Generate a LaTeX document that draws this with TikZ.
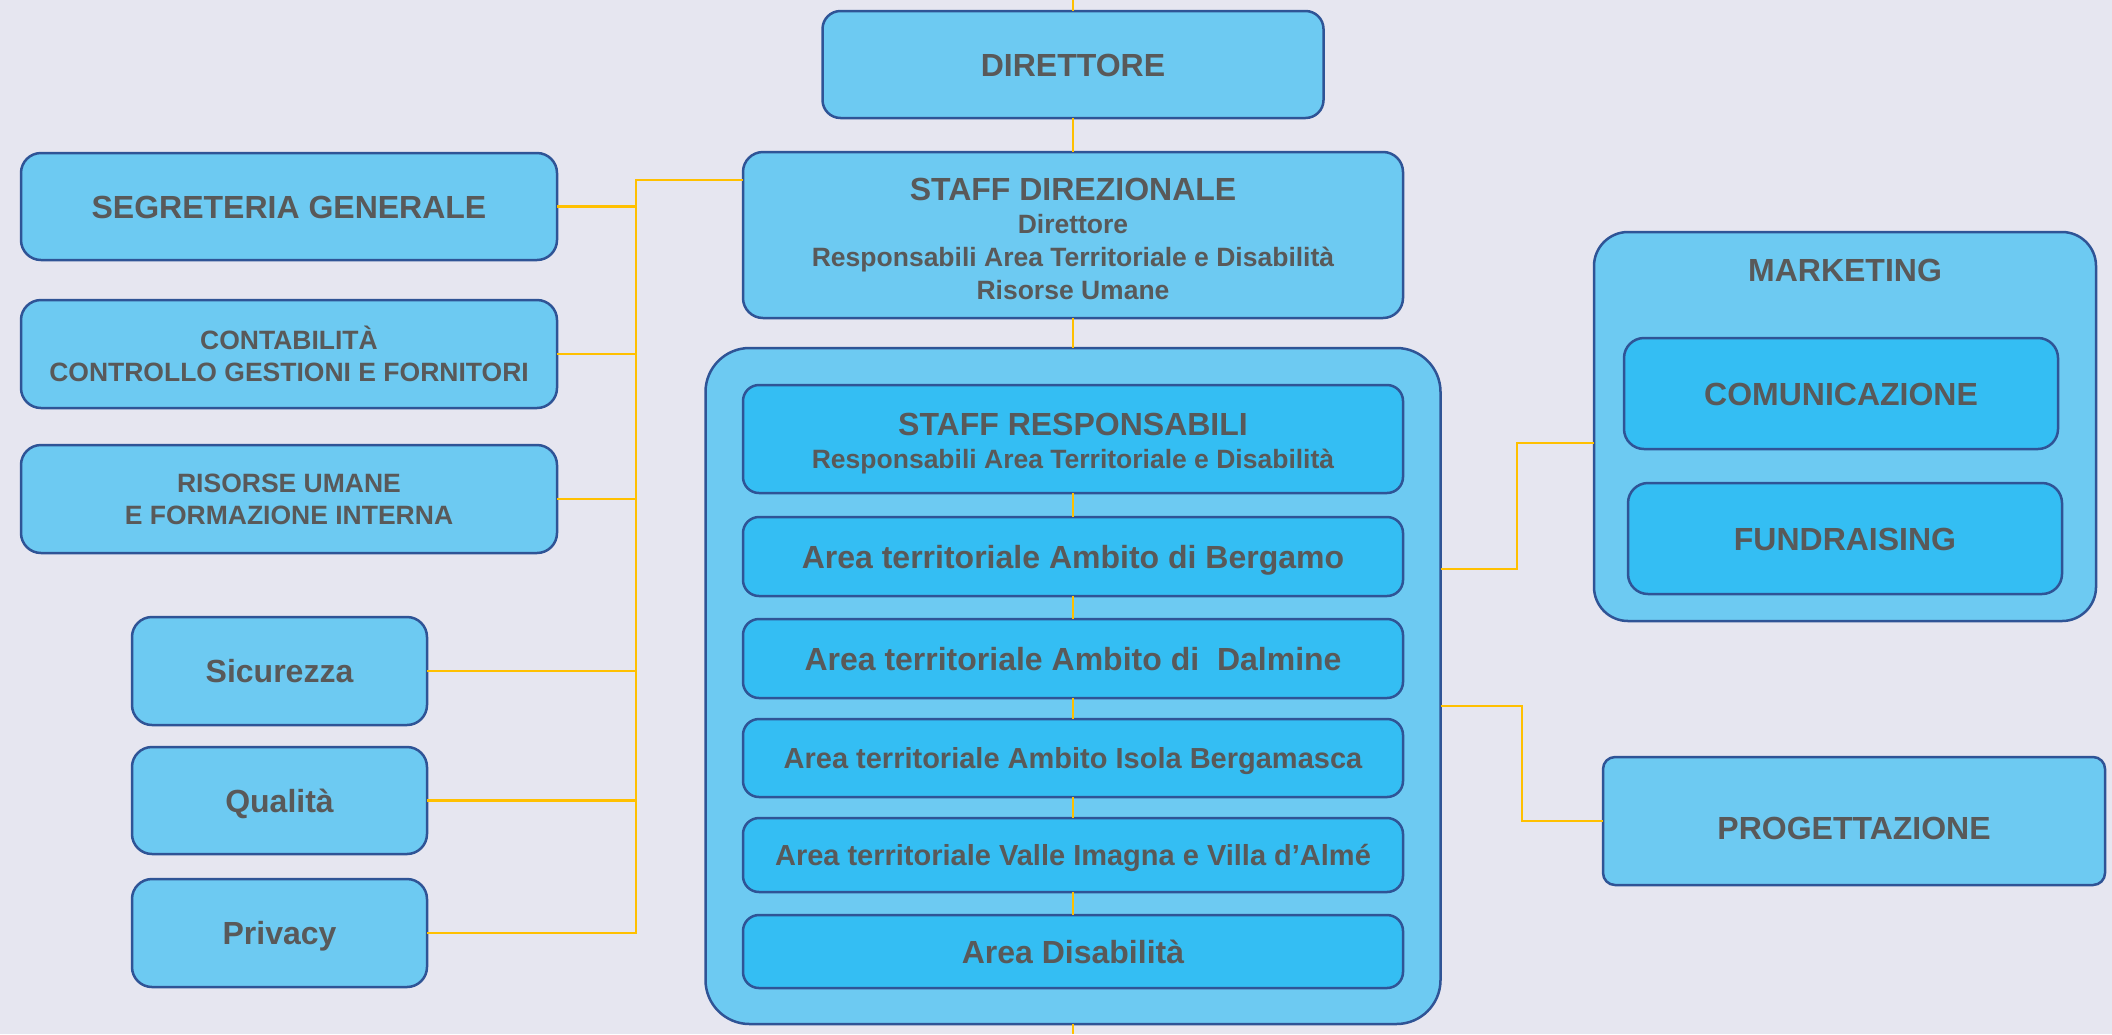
\documentclass[tikz,border=0pt]{standalone}
\usepackage{fontspec}
\setmainfont{Liberation Sans}

\definecolor{bgcol}{HTML}{E6E6F0}
\definecolor{boxcol}{HTML}{6DCAF2}
\definecolor{innercol}{HTML}{34BEF3}
\definecolor{edgecol}{HTML}{2F5496}
\definecolor{txtcol}{HTML}{595959}
\definecolor{linkcol}{HTML}{FFC000}

\tikzset{
	orgbox/.style={draw=edgecol, line width=1.25pt, fill=boxcol, text=txtcol, inner sep=0pt, outer sep=0pt, align=center, rounded corners=9pt},
	subbox/.style={orgbox, fill=innercol, rounded corners=8pt},
	ttltxt/.style={font=\fontsize{16}{16}\selectfont\bfseries},
	midtxt/.style={font=\fontsize{14.5}{16}\selectfont\bfseries},
	stafftxt/.style={font=\fontsize{13.25}{16.5}\selectfont\bfseries},
	twotxt/.style={font=\fontsize{13.25}{16}\selectfont\bfseries},
	oneline/.style={text height=11.5pt, text depth=0pt},
	link/.style={draw=linkcol, line width=1.35pt},
}

\begin{document}
\begin{tikzpicture}[x=0.5pt, y=-0.5pt]
			%%%%% START %%%%%
			
			\useasboundingbox (0, 0) rectangle (2112, 1034);
			\fill[bgcol] (0, 0) rectangle (2112, 1034);
			
			% centre column
			\node[orgbox, ttltxt, oneline, minimum width=250.5pt, minimum height=53.5pt] (dir) at (1073, 64.5) {DIRETTORE};
			\node[orgbox, stafftxt, rounded corners=10pt, minimum width=330pt, minimum height=83pt] (stdir) at (1073, 235) {{\fontsize{16}{16.5}\selectfont\rule{0pt}{15.5pt}STAFF DIREZIONALE}\\Direttore\\Responsabili Area Territoriale e Disabilità\\Risorse Umane};
			
			\node[orgbox, rounded corners=22pt, minimum width=367.5pt, minimum height=338pt] (area) at (1073, 686) {};
			\node[subbox, stafftxt, minimum width=330pt, minimum height=54pt] (stresp) at (1073, 439) {{\fontsize{16}{16.5}\selectfont\rule{0pt}{15.5pt}STAFF RESPONSABILI}\\Responsabili Area Territoriale e Disabilità};
			\node[subbox, ttltxt, oneline, minimum width=330pt, minimum height=39.5pt] (berg) at (1073, 556.5) {Area territoriale Ambito di Bergamo};
			\node[subbox, ttltxt, oneline, minimum width=330pt, minimum height=39.5pt] (dalm) at (1073, 658.5) {Area territoriale Ambito di\ \ Dalmine};
			\node[subbox, midtxt, text height=10.4pt, text depth=0pt, minimum width=330pt, minimum height=39pt] (isola) at (1073, 758) {Area territoriale Ambito Isola Bergamasca};
			\node[subbox, midtxt, text height=10.4pt, text depth=0pt, minimum width=330pt, minimum height=37pt] (valle) at (1073, 855) {Area territoriale Valle Imagna e Villa d’Almé};
			\node[subbox, ttltxt, oneline, minimum width=330pt, minimum height=36.5pt] (disab) at (1073, 951.5) {Area Disabilità};
			
			% left column
			\node[orgbox, ttltxt, oneline, rounded corners=10pt, minimum width=268pt, minimum height=53.5pt] (segr) at (289, 206.5) {SEGRETERIA GENERALE};
			\node[orgbox, twotxt, rounded corners=10pt, minimum width=268pt, minimum height=54pt] (cont) at (289, 354) {CONTABILITÀ\\CONTROLLO GESTIONI E FORNITORI};
			\node[orgbox, twotxt, rounded corners=10pt, minimum width=268pt, minimum height=54pt] (risu) at (289, 499) {RISORSE UMANE\\E FORMAZIONE INTERNA};
			
			\node[orgbox, ttltxt, oneline, rounded corners=10pt, minimum width=147.5pt, minimum height=54pt] (sic) at (279.5, 671) {Sicurezza};
			\node[orgbox, ttltxt, oneline, rounded corners=10pt, minimum width=147.5pt, minimum height=53.5pt] (qual) at (279.5, 800.5) {Qualità};
			\node[orgbox, ttltxt, oneline, rounded corners=10pt, minimum width=147.5pt, minimum height=54pt] (priv) at (279.5, 933) {Privacy};
			
			% right column
			\node[orgbox, rounded corners=17pt, minimum width=251pt, minimum height=194.5pt] (mkt) at (1845, 426.5) {};
			\node[text=txtcol, ttltxt, oneline, inner sep=0pt] (mktlab) at (1845, 269.5) {MARKETING};
			\node[subbox, ttltxt, oneline, rounded corners=10pt, minimum width=217pt, minimum height=55.5pt] (com) at (1841, 393.5) {COMUNICAZIONE};
			\node[subbox, ttltxt, oneline, rounded corners=10pt, minimum width=217pt, minimum height=55.5pt] (fund) at (1845, 538.5) {FUNDRAISING};
			
			\node[orgbox, ttltxt, text height=18.1pt, text depth=0pt, rounded corners=6pt, minimum width=251pt, minimum height=64pt] (prog) at (1854, 821) {PROGETTAZIONE};
			
			% connectors
			\coordinate (top) at (1073, 0);
			\coordinate (bottom) at (1073, 1034);
			\draw[link] (top) -- (dir.north);
			\draw[link] (dir.south) -- (stdir.north);
			\draw[link] (stdir.south) -- (area.north);
			\draw[link] (stresp.south) -- (berg.north);
			\draw[link] (berg.south) -- (dalm.north);
			\draw[link] (dalm.south) -- (isola.north);
			\draw[link] (isola.south) -- (valle.north);
			\draw[link] (valle.south) -- (disab.north);
			\draw[link] (area.south) -- (bottom);
			
			\coordinate (bus) at (636, 180);
			\draw[link] (stdir.west |- bus) -- (bus) -- (bus |- priv.east) -- (priv.east);
			\foreach \n in {segr, cont, risu, sic, qual}
				\draw[link] (\n.east) -- (\n.east -| bus);
			
			\coordinate (mkA) at (1517, 569);
			\coordinate (mkB) at (1517, 443);
			\draw[link] (area.east |- mkA) -- (mkA) -- (mkB) -- (mkt.west |- mkB);
			
			\coordinate (prA) at (1522, 706);
			\draw[link] (area.east |- prA) -- (prA) |- (prog.west);
			
			%%%%% END %%%%%
\end{tikzpicture}
\end{document}
